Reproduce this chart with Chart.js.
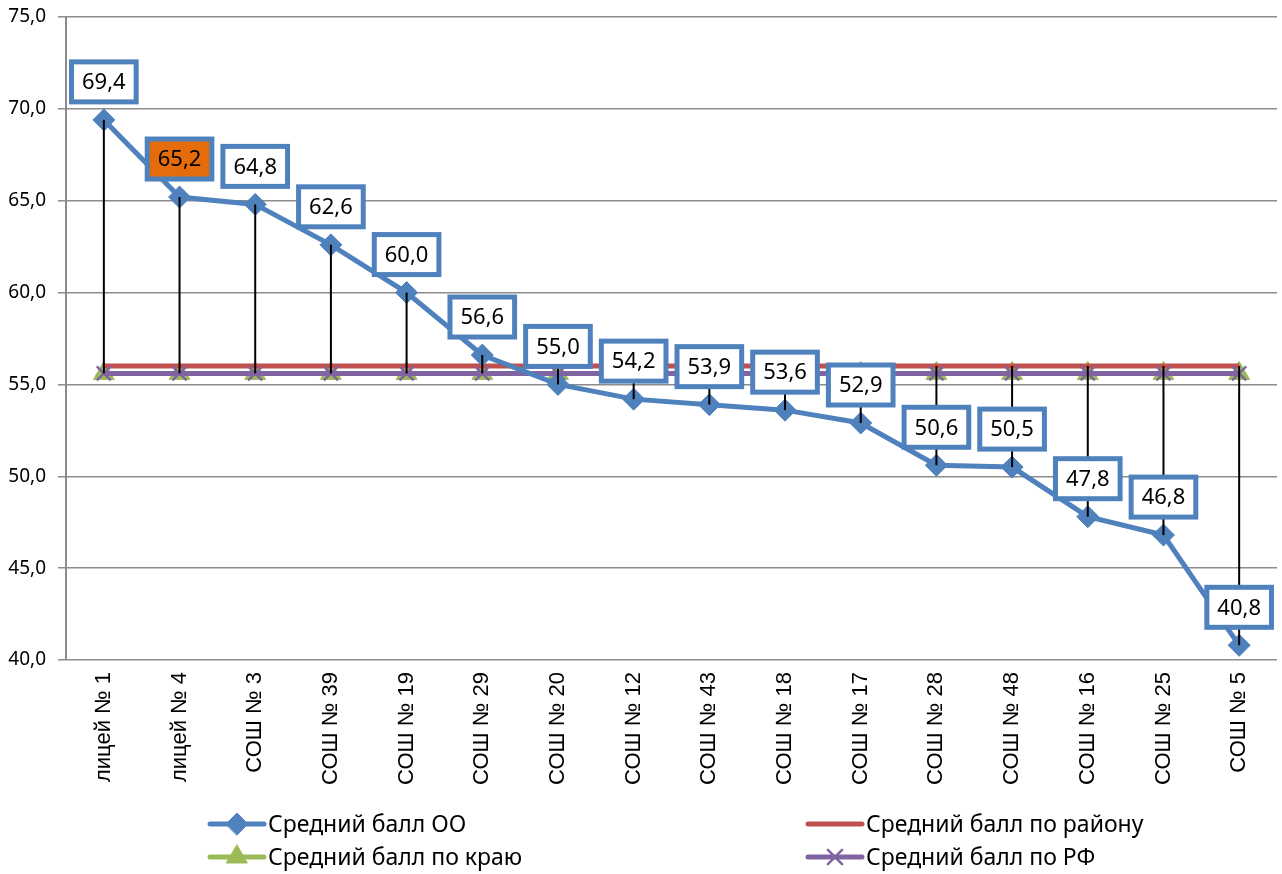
<!DOCTYPE html>
<html>
<head>
<meta charset="utf-8">
<script src="https://cdn.jsdelivr.net/npm/chart.js@4"></script>
<style>
  html, body { margin: 0; padding: 0; background: #fff; }
</style>
</head>
<body>
<canvas id="chart" width="1282" height="874"></canvas>
<script>
// data
const schools = ['лицей № 1', 'лицей № 4', 'СОШ № 3', 'СОШ № 39', 'СОШ № 19', 'СОШ № 29', 'СОШ № 20', 'СОШ № 12',
                 'СОШ № 43', 'СОШ № 18', 'СОШ № 17', 'СОШ № 28', 'СОШ № 48', 'СОШ № 16', 'СОШ № 25', 'СОШ № 5'];
const avgSchool   = [69.4, 65.2, 64.8, 62.6, 60.0, 56.6, 55.0, 54.2, 53.9, 53.6, 52.9, 50.6, 50.5, 47.8, 46.8, 40.8];
const avgDistrict = [56.0, 56.0, 56.0, 56.0, 56.0, 56.0, 56.0, 56.0, 56.0, 56.0, 56.0, 56.0, 56.0, 56.0, 56.0, 56.0];
const avgRegion   = [55.6, 55.6, 55.6, 55.6, 55.6, 55.6, 55.6, 55.6, 55.6, 55.6, 55.6, 55.6, 55.6, 55.6, 55.6, 55.6];
const avgRF       = [55.6, 55.6, 55.6, 55.6, 55.6, 55.6, 55.6, 55.6, 55.6, 55.6, 55.6, 55.6, 55.6, 55.6, 55.6, 55.6];
const seriesNames = ['Средний балл ОО', 'Средний балл по району', 'Средний балл по краю', 'Средний балл по РФ'];
const highlightIndex = 1; // лицей № 4 gets the orange label

const BLUE = '#4F81BD', RED = '#C0504D', GREEN = '#9BBB59', PURPLE = '#8064A2';
const fmt = v => v.toFixed(1).replace('.', ',');

// high-low lines + boxed data labels
const boxLabels = {
    id: 'boxLabels',
    afterDatasetsDraw(chart) {
        const ctx = chart.ctx;
        const y = chart.scales.y;
        const meta = chart.getDatasetMeta(0);
        ctx.save();
        ctx.strokeStyle = '#000';
        ctx.lineWidth = 2;
        meta.data.forEach((pt, i) => {
            const vals = chart.data.datasets.map(d => d.data[i]);
            ctx.beginPath();
            ctx.moveTo(pt.x, y.getPixelForValue(Math.max(...vals)));
            ctx.lineTo(pt.x, y.getPixelForValue(Math.min(...vals)));
            ctx.stroke();
        });

        ctx.font = '22px "Noto Sans"';
        ctx.textAlign = 'center';
        ctx.textBaseline = 'middle';
        meta.data.forEach((pt, i) => {
            const txt = fmt(avgSchool[i]);
            const w = ctx.measureText(txt).width + 21;
            const h = 40;
            const cx = pt.x, cy = pt.y - 38;
            ctx.fillStyle = i === highlightIndex ? '#E46C0A' : '#fff';
            ctx.fillRect(cx - w / 2, cy - h / 2, w, h);
            ctx.lineWidth = 5;
            ctx.strokeStyle = BLUE;
            ctx.strokeRect(cx - w / 2, cy - h / 2, w, h);
            ctx.fillStyle = '#000';
            ctx.fillText(txt, cx, cy + 1);
        });
        ctx.restore();
    }
};

// two-column legend under the axis
const gridLegend = {
    id: 'gridLegend',
    afterDraw(chart) {
        const ctx = chart.ctx;
        const spots = [[210, 824], [808, 824], [210, 857], [808, 857]];
        ctx.save();
        ctx.font = '23px "Noto Sans"';
        ctx.textBaseline = 'middle';
        ctx.textAlign = 'left';
        chart.data.datasets.forEach((ds, i) => {
            const [x, yy] = spots[i];
            ctx.strokeStyle = ds.borderColor;
            ctx.lineWidth = 5;
            ctx.lineCap = 'round';
            ctx.beginPath();
            ctx.moveTo(x, yy);
            ctx.lineTo(x + 54, yy);
            ctx.stroke();
            if (ds.pointRadius > 0) {
                ctx.fillStyle = ds.pointBackgroundColor;
                ctx.strokeStyle = ds.pointBorderColor;
                ctx.lineWidth = ds.pointBorderWidth;
                Chart.helpers.drawPoint(ctx, { pointStyle: ds.pointStyle, radius: ds.pointRadius, borderWidth: ds.pointBorderWidth, rotation: 0 }, x + 27, yy);
            }
            ctx.fillStyle = '#000';
            ctx.fillText(ds.label, x + 58, yy + 1);
        });
        ctx.restore();
    }
};

new Chart(document.getElementById('chart'), {
    type: 'line',
    data: {
        labels: schools,
        datasets: [
            {
                label: seriesNames[0], data: avgSchool, order: 0,
                borderColor: BLUE, borderWidth: 5,
                pointStyle: 'rectRot', pointRadius: 11, pointBorderWidth: 1,
                pointBackgroundColor: BLUE, pointBorderColor: BLUE
            },
            {
                label: seriesNames[1], data: avgDistrict, order: 2,
                borderColor: RED, borderWidth: 5, pointRadius: 0
            },
            {
                label: seriesNames[2], data: avgRegion, order: 3,
                borderColor: GREEN, borderWidth: 5,
                pointStyle: 'triangle', pointRadius: 12, pointBorderWidth: 1,
                pointBackgroundColor: GREEN, pointBorderColor: GREEN
            },
            {
                label: seriesNames[3], data: avgRF, order: 1,
                borderColor: PURPLE, borderWidth: 5,
                pointStyle: 'crossRot', pointRadius: 10, pointBorderWidth: 2.5,
                pointBackgroundColor: PURPLE, pointBorderColor: PURPLE
            }
        ]
    },
    options: {
        responsive: false,
        animation: false,
        devicePixelRatio: 1,
        layout: { autoPadding: false, padding: { top: 17, right: 5, bottom: 74, left: 0 } },
        plugins: { legend: { display: false }, tooltip: { enabled: false } },
        scales: {
            x: {
                offset: true,
                afterFit: s => { s.height = 140; s.paddingLeft = 0; s.paddingRight = 0; },
                grid: { display: false, drawTicks: false, offset: true },
                border: { display: false },
                ticks: {
                    minRotation: 90, maxRotation: 90, padding: 12, autoSkip: false,
                    color: '#000', font: { family: '"Liberation Sans"', size: 22 }
                }
            },
            y: {
                min: 40, max: 75,
                afterFit: s => { s.width = 66; s.paddingTop = 0; s.paddingBottom = 0; },
                grid: { color: '#8C8C8C', lineWidth: 1.5, tickLength: 8 },
                border: { color: '#8C8C8C', width: 2 },
                ticks: {
                    stepSize: 5, padding: 12, color: '#000',
                    font: { family: '"Noto Sans"', size: 19 },
                    callback: v => fmt(v)
                }
            }
        }
    },
    plugins: [boxLabels, gridLegend]
});
</script>
</body>
</html>
